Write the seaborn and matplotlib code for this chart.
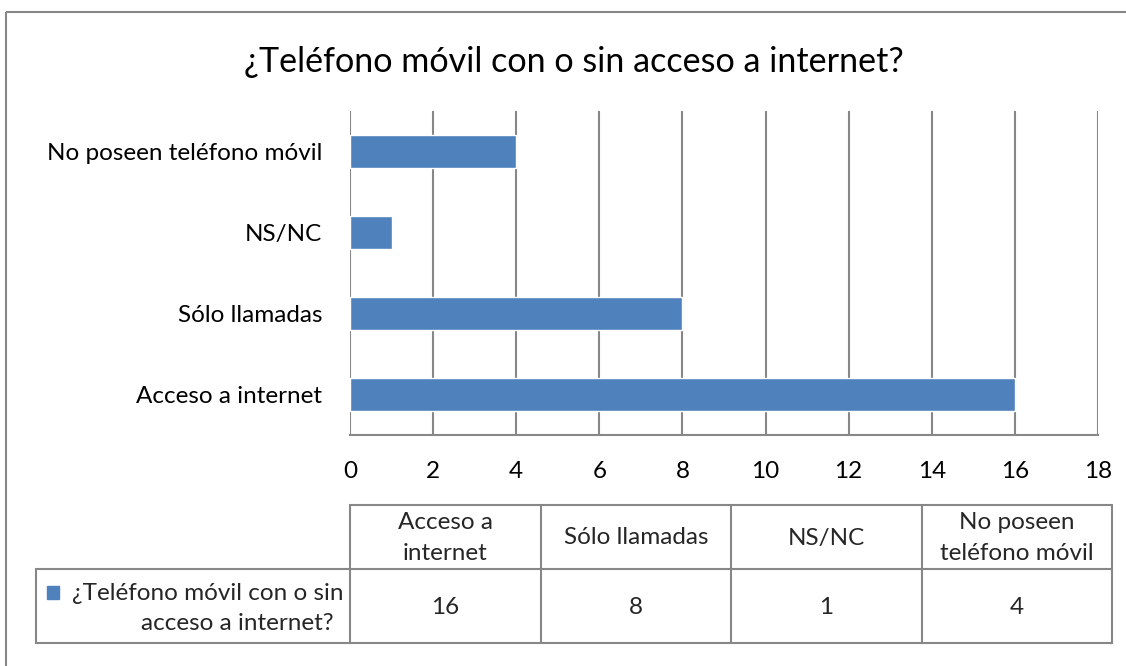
import matplotlib
matplotlib.use("Agg")
import matplotlib.pyplot as plt
import seaborn as sns
import pandas as pd
from matplotlib.patches import Rectangle

# data
categories = ["Acceso a internet", "Sólo llamadas", "NS/NC", "No poseen teléfono móvil"]
values = [16, 8, 1, 4]
header_labels = ["Acceso a\ninternet", "Sólo llamadas", "NS/NC", "No poseen\nteléfono móvil"]
series_name = "¿Teléfono móvil con o sin acceso a internet?"
x_ticks = [0, 2, 4, 6, 8, 10, 12, 14, 16, 18]

BLUE = "#4F81BD"
GRID = "#878787"
FONT = "Lato"
FS = 17.5

sns.set_theme(style="white")
plt.rcParams["font.family"] = [FONT, "DejaVu Sans"]

W, H = 1126, 666
fig = plt.figure(figsize=(W / 100, H / 100), dpi=100)

# pixel overlay for border, title and table
ov = fig.add_axes([0, 0, 1, 1])
ov.set_xlim(0, W)
ov.set_ylim(H, 0)
ov.axis("off")

ov.add_patch(Rectangle((6, 12), W + 20, H + 20, fill=False, edgecolor=GRID, lw=1.5))
ov.text(574, 62, series_name, ha="center", va="center", fontsize=24.6, color="black")

# bar chart
plot_l, plot_r, plot_t, plot_b = 350, 1098, 111, 435
ax = fig.add_axes([plot_l / W, (H - plot_b) / H, (plot_r - plot_l) / W, (plot_b - plot_t) / H])
df = pd.DataFrame({"cat": categories, "val": values})
order = categories[::-1]
sns.barplot(data=df, y="cat", x="val", order=order, color=BLUE, saturation=1,
            width=0.41, ax=ax, zorder=3)
ax.set_xlim(0, 18)
ax.set_xticks(x_ticks)
for x in x_ticks:
    ax.axvline(x, color=GRID, lw=1.5, zorder=1)
for s in ["top", "right", "left"]:
    ax.spines[s].set_visible(False)
ax.spines["bottom"].set_color(GRID)
ax.spines["bottom"].set_linewidth(1.5)
ax.set_xlabel("")
ax.set_ylabel("")
ax.tick_params(axis="y", length=0, pad=20, labelsize=FS, labelcolor="black")
ax.tick_params(axis="x", length=0, pad=19, labelsize=FS, labelcolor="black")

# data table
col_l, col_r = 350, 1112
tab_t, tab_m, tab_b = 505, 569, 643
row_l = 36
ncol = len(categories)
cw = (col_r - col_l) / ncol
lkw = dict(color=GRID, lw=1.5)
ov.plot([col_l, col_r], [tab_t, tab_t], **lkw)
ov.plot([row_l, col_r], [tab_m, tab_m], **lkw)
ov.plot([row_l, col_r], [tab_b, tab_b], **lkw)
ov.plot([row_l, row_l], [tab_m, tab_b], **lkw)
for i in range(ncol + 1):
    x = col_l + i * cw
    ov.plot([x, x], [tab_t, tab_b], **lkw)
for i, (lab, v) in enumerate(zip(header_labels, values)):
    cx = col_l + (i + 0.5) * cw
    ov.text(cx, (tab_t + tab_m) / 2 + 1, lab, ha="center", va="center", fontsize=FS,
            linespacing=1.55)
    ov.text(cx, (tab_m + tab_b) / 2 + 2, str(v), ha="center", va="center", fontsize=FS)

ov.add_patch(Rectangle((47, 586), 12, 13, color=BLUE))
ov.text(343, 593, "¿Teléfono móvil con o sin", ha="right", va="center", fontsize=FS)
ov.text(334, 623, "acceso a internet?", ha="right", va="center", fontsize=FS)

fig.savefig("out.png", dpi=100)
